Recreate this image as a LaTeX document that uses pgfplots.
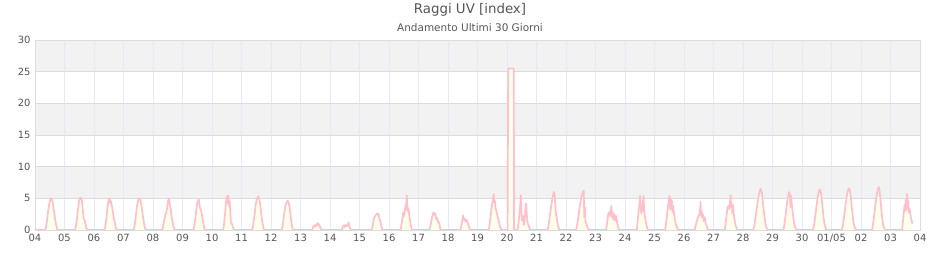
\documentclass[border=0pt]{standalone}
\usepackage{pgfplots}
\pgfplotsset{compat=1.18}
\usepackage{pgfplotstable}
\usepackage{fontspec}
\setmainfont{DejaVu Sans}
\definecolor{txt}{HTML}{555555}
\definecolor{band}{HTML}{F2F2F2}
\definecolor{hgrid}{HTML}{DCDCDC}
\definecolor{vgrid}{HTML}{EAE8F8}
\definecolor{uvline}{HTML}{FFC0CB}
\definecolor{uvfill}{HTML}{FFFFEC}
\pgfplotstableread{
x y
0 0
0.34 0
0.37 0.4
0.40 1.3
0.43 2.4
0.46 3.5
0.49 4.3
0.52 4.8
0.55 5.0
0.58 4.8
0.61 4.1
0.64 3.1
0.67 2.1
0.70 1.2
0.73 0.5
0.76 0.1
0.78 0
1.35 0
1.38 0.4
1.41 1.4
1.44 2.6
1.47 3.8
1.50 4.7
1.53 5.1
1.56 5.1
1.59 4.6
1.62 3.2
1.65 1.8
1.68 1.6
1.71 1.0
1.74 0.3
1.77 0
2.35 0
2.38 0.5
2.41 1.5
2.44 2.8
2.47 4.0
2.50 4.9
2.53 5.0
2.55 4.2
2.57 4.6
2.60 4.0
2.63 3.2
2.66 2.2
2.69 1.5
2.72 0.8
2.75 0.2
2.77 0
3.34 0
3.37 0.5
3.40 1.5
3.43 2.7
3.46 3.8
3.49 4.5
3.52 4.9
3.55 5.0
3.58 4.6
3.61 3.8
3.64 2.8
3.67 1.8
3.70 0.9
3.73 0.3
3.76 0
4.32 0
4.35 0.8
4.38 1.6
4.41 2.2
4.44 2.6
4.47 3.3
4.50 4.2
4.53 5.0
4.55 4.9
4.57 4.0
4.60 3.3
4.63 2.2
4.66 1.3
4.69 0.6
4.72 0.2
4.74 0
5.37 0
5.40 0.6
5.43 1.6
5.46 2.8
5.49 4.0
5.52 4.5
5.55 4.8
5.57 4.3
5.59 3.5
5.62 3.3
5.65 2.6
5.68 1.8
5.71 1.0
5.74 0.3
5.76 0
6.38 0
6.41 1.0
6.44 2.4
6.46 3.5
6.48 4.6
6.50 5.3
6.52 4.2
6.54 5.4
6.56 5.4
6.58 3.8
6.60 4.5
6.62 3.0
6.64 1.2
6.67 1.0
6.70 0.6
6.73 0.2
6.75 0
7.36 0
7.39 0.6
7.42 1.6
7.45 2.8
7.48 3.9
7.51 4.7
7.54 5.1
7.57 5.3
7.60 5.0
7.63 4.2
7.66 3.0
7.69 1.8
7.72 0.9
7.75 0.3
7.77 0
8.36 0
8.39 0.5
8.42 1.5
8.45 2.7
8.48 3.6
8.51 4.2
8.54 4.5
8.57 4.6
8.60 4.3
8.63 3.6
8.66 2.4
8.69 1.3
8.72 0.5
8.74 0
9.40 0
9.43 0.6
9.46 0.5
9.49 0.8
9.52 0.6
9.55 0.9
9.58 1.1
9.61 0.7
9.64 0.9
9.67 0.4
9.70 0.1
9.72 0
10.40 0
10.43 0.5
10.46 0.7
10.49 0.5
10.52 0.8
10.55 0.6
10.58 0.7
10.61 0.9
10.63 1.2
10.65 0.6
10.68 0.3
10.71 0
11.42 0
11.45 0.8
11.48 1.6
11.51 2.1
11.54 2.2
11.57 2.5
11.60 2.6
11.63 2.6
11.66 2.2
11.69 1.6
11.72 1.0
11.75 0.4
11.78 0
12.39 0
12.42 0.8
12.45 1.6
12.48 2.8
12.51 2.2
12.54 3.0
12.56 4.0
12.58 3.2
12.60 5.5
12.62 4.0
12.64 3.0
12.66 3.4
12.69 2.2
12.72 1.2
12.75 0.5
12.78 0
13.36 0
13.39 0.5
13.42 1.0
13.45 1.8
13.48 2.4
13.51 2.8
13.54 2.4
13.57 2.6
13.60 1.7
13.63 1.9
13.66 1.2
13.69 1.3
13.72 0.6
13.75 0
14.42 0
14.45 0.6
14.48 1.4
14.51 2.3
14.54 1.6
14.57 1.8
14.60 1.3
14.63 1.6
14.66 1.2
14.69 0.8
14.72 0.4
14.76 0
15.38 0
15.41 0.8
15.44 2.0
15.47 3.2
15.50 4.2
15.53 5.0
15.55 5.7
15.57 4.4
15.59 4.6
15.61 3.4
15.64 3.0
15.67 2.4
15.70 1.8
15.73 1.2
15.76 0.6
15.80 0.2
15.83 0
16.02 0
16.03 12.9
16.04 25.5
16.23 25.5
16.24 0
16.36 0
16.39 1.2
16.42 2.5
16.45 4.0
16.47 5.5
16.49 3.0
16.51 1.5
16.54 2.2
16.57 0.8
16.60 1.5
16.63 3.8
16.65 4.2
16.67 2.5
16.70 1.0
16.73 0.8
16.76 0.3
16.80 0
17.38 0
17.41 0.8
17.44 1.8
17.47 2.9
17.50 3.8
17.53 4.8
17.56 5.5
17.59 6.0
17.61 5.8
17.63 4.5
17.65 3.0
17.68 2.0
17.71 1.2
17.74 0.5
17.77 0
18.34 0
18.37 0.6
18.40 1.5
18.43 2.5
18.46 3.5
18.49 4.4
18.52 5.2
18.55 5.7
18.58 6.0
18.60 6.2
18.62 2.0
18.64 3.6
18.66 1.4
18.69 1.0
18.72 0.5
18.75 0.2
18.80 0
19.36 0
19.39 1.0
19.42 2.2
19.45 2.8
19.48 2.2
19.51 3.0
19.54 3.8
19.56 2.0
19.58 2.8
19.61 1.6
19.64 2.5
19.67 1.5
19.70 2.2
19.73 1.2
19.76 0.6
19.80 0
20.40 0
20.43 1.5
20.46 3.0
20.49 4.2
20.51 5.4
20.53 4.0
20.55 2.6
20.57 3.5
20.59 3.0
20.61 4.6
20.63 5.4
20.65 3.0
20.68 2.0
20.71 1.2
20.74 0.5
20.78 0
21.36 0
21.39 1.0
21.42 2.2
21.45 3.5
21.48 4.6
21.51 5.4
21.53 3.2
21.55 5.0
21.57 3.8
21.59 4.6
21.61 2.8
21.63 3.8
21.66 2.6
21.69 1.6
21.72 1.0
21.76 0.4
21.80 0
22.36 0
22.40 0.8
22.44 1.5
22.48 2.0
22.51 2.4
22.54 2.8
22.56 4.5
22.58 2.2
22.60 3.0
22.62 2.0
22.64 2.5
22.67 1.4
22.70 2.0
22.73 1.2
22.77 0.6
22.82 0
23.38 0
23.41 1.0
23.44 2.2
23.47 3.4
23.50 3.8
23.53 3.3
23.56 4.5
23.58 5.5
23.60 3.6
23.62 4.2
23.64 2.6
23.66 3.9
23.69 2.4
23.72 1.4
23.76 0.6
23.80 0
24.35 0
24.38 0.6
24.41 1.5
24.44 2.5
24.47 3.5
24.50 4.5
24.53 5.3
24.56 6.0
24.59 6.5
24.61 6.4
24.64 5.8
24.67 4.6
24.70 3.2
24.73 2.0
24.76 1.0
24.80 0.3
24.84 0
25.37 0
25.40 0.8
25.43 1.8
25.46 3.0
25.49 4.2
25.52 5.2
25.55 5.8
25.57 6.0
25.59 5.6
25.61 3.6
25.63 5.4
25.65 4.2
25.68 3.0
25.71 1.8
25.74 0.9
25.78 0.3
25.82 0
26.37 0
26.40 0.6
26.43 1.5
26.46 2.6
26.49 3.7
26.52 4.8
26.55 5.6
26.58 6.2
26.61 6.4
26.64 6.0
26.67 4.8
26.70 3.4
26.73 2.0
26.76 1.0
26.80 0.3
26.84 0
27.35 0
27.38 0.6
27.41 1.5
27.44 2.6
27.47 3.7
27.50 4.8
27.53 5.7
27.56 6.3
27.59 6.6
27.62 6.3
27.65 5.4
27.68 4.0
27.71 2.6
27.74 1.4
27.77 0.6
27.81 0.2
27.85 0
28.37 0
28.40 0.7
28.43 1.7
28.46 2.9
28.49 4.0
28.52 5.1
28.55 6.0
28.58 6.6
28.60 6.8
28.63 6.2
28.66 4.8
28.69 3.2
28.72 1.8
28.75 0.8
28.79 0.2
28.83 0
29.39 0
29.42 1.2
29.45 2.8
29.48 4.0
29.50 3.0
29.52 4.8
29.54 3.2
29.56 5.7
29.58 3.8
29.60 4.6
29.62 2.8
29.64 3.4
29.66 3.0
29.68 2.2
29.71 1.6
29.74 1.1
29.75 1.0
}\uvdata
\begin{document}
\begin{tikzpicture}
\path (0,0) rectangle (940bp,260bp);
\node[text=txt, font=\fontsize{13.4}{15}\selectfont] at (470bp,250bp) {Raggi UV [index]};
\node[text=txt, font=\fontsize{10.5}{12}\selectfont] at (470bp,232bp) {Andamento Ultimi 30 Giorni};
\begin{axis}[
  set layers,
  at={(35bp,30bp)}, anchor=south west,
  scale only axis, width=885bp, height=190bp,
  xmin=0, xmax=30, ymin=0, ymax=30,
  xtick={0,1,...,30},
  xticklabels={04,05,06,07,08,09,10,11,12,13,14,15,16,17,18,19,20,21,22,23,24,25,26,27,28,29,30,01/05,02,03,04},
  ytick={0,5,10,15,20,25,30},
  major tick length=0pt,
  axis line style={draw=hgrid, line width=0.9pt},
  xmajorgrids, ymajorgrids,
  x grid style={vgrid, line width=0.8pt},
  y grid style={hgrid, line width=0.9pt},
  tick label style={text=txt, font=\fontsize{10}{12}\selectfont},
  /pgf/number format/assume math mode=true,
  xticklabel style={yshift=-1bp},
  yticklabel style={xshift=-1bp},
  clip=true,
]
\addplot[on layer=axis background, draw=none, fill=band] coordinates {(0,25) (30,25) (30,30) (0,30)} -- cycle;
\addplot[on layer=axis background, draw=none, fill=band] coordinates {(0,15) (30,15) (30,20) (0,20)} -- cycle;
\addplot[on layer=axis background, draw=none, fill=band] coordinates {(0,5) (30,5) (30,10) (0,10)} -- cycle;
\addplot[draw=none, fill=uvfill] table[x=x, y=y] {\uvdata} \closedcycle;
\addplot[uvline, line width=1.7pt, line join=round] table[x=x, y=y] {\uvdata};
\end{axis}
\end{tikzpicture}
\end{document}
